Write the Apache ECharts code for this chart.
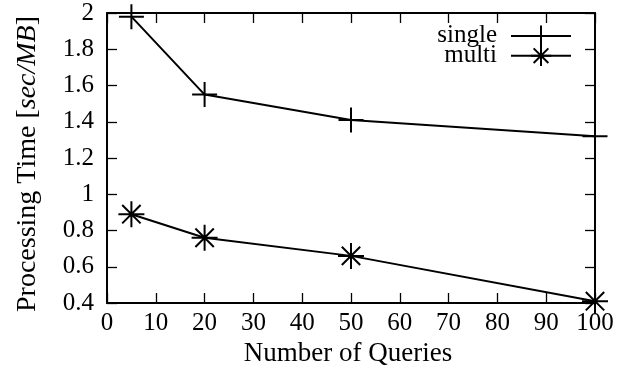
<!DOCTYPE html>
<html>
<head>
<meta charset="utf-8">
<script src="https://cdn.jsdelivr.net/npm/echarts@6/dist/echarts.min.js"></script>
<style>
html,body{margin:0;padding:0;background:#fff;}
#main{width:637px;height:369px;}
</style>
</head>
<body>
<div id="main"></div>
<script>
// 数据
let queries = [5, 20, 50, 100];
let singleTime = [1.98, 1.55, 1.41, 1.32];
let multiTime = [0.89, 0.76, 0.66, 0.41];
let xTicks = [0, 10, 20, 30, 40, 50, 60, 70, 80, 90, 100];
let yTicks = [0.4, 0.6, 0.8, 1, 1.2, 1.4, 1.6, 1.8, 2];

let fontName = 'Liberation Serif';
let fontSize = 25;
let plusPath = 'path://M0,-10L0,10M-10,0L10,0';
let starPath = 'path://M0,-10L0,10M-10,0L10,0M-7.07,-7.07L7.07,7.07M-7.07,7.07L7.07,-7.07';

function pairs(xs, ys){
	let result = [];
	for(let i = 0; i < xs.length; i++){
		result.push([xs[i], ys[i]]);
	}
	return result;
}

function makeSeries(name, ys, symbol, size){
	return {
		name: name,
		type: 'line',
		data: pairs(queries, ys),
		symbol: symbol,
		symbolSize: size,
		symbolKeepAspect: true,
		showAllSymbol: true,
		lineStyle: {color: '#000', width: 2},
		itemStyle: {color: 'none', borderColor: '#000', borderWidth: 2},
		emphasis: {disabled: true},
		z: 5
	};
}

let chart = echarts.init(document.getElementById('main'));
let axisLine = {show: true, onZero: false, lineStyle: {color: '#000', width: 2}};
let tick = {show: true, inside: true, length: 10, lineStyle: {color: '#000', width: 1.3}};

let option = {
	animation: false,
	backgroundColor: '#fff',
	grid: {left: 107, right: 42, top: 13, bottom: 66, containLabel: false, outerBoundsMode: 'none'},
	legend: {
		orient: 'vertical',
		align: 'right',
		right: 60,
		top: 18,
		itemGap: -6,
		itemWidth: 60,
		itemHeight: 26,
		textStyle: {fontFamily: fontName, fontSize: fontSize, color: '#000', padding: [0, 9, 0, 0]},
		data: ['single', 'multi']
	},
	xAxis: [{
		type: 'value', min: 0, max: 100, interval: 10,
		name: 'Number of Queries', nameLocation: 'middle', nameGap: 36,
		nameTextStyle: {fontFamily: fontName, fontSize: 27, color: '#000', padding: [0, 6, 0, 0]},
		axisLine: axisLine, axisTick: tick,
		axisLabel: {fontFamily: fontName, fontSize: fontSize, color: '#000', margin: 8},
		splitLine: {show: false}
	}, {
		type: 'value', position: 'top', min: 0, max: 100, interval: 10,
		axisLine: axisLine, axisTick: tick, axisLabel: {show: false}, splitLine: {show: false}
	}],
	yAxis: [{
		type: 'value', min: 0.4, max: 2, interval: 0.2,
		name: '{a|Processing Time [}{b|sec/MB}{a|]}', nameLocation: 'middle', nameGap: 65,
		nameTextStyle: {
			padding: [0, 12, 0, 0],
			rich: {
				a: {fontFamily: fontName, fontSize: 28, color: '#000'},
				b: {fontFamily: fontName, fontSize: 28, fontStyle: 'italic', color: '#000'}
			}
		},
		axisLine: axisLine, axisTick: tick,
		axisLabel: {fontFamily: fontName, fontSize: fontSize, color: '#000', margin: 13,
			formatter: function(v){ return String(Math.round(v * 10) / 10); }},
		splitLine: {show: false}
	}, {
		type: 'value', position: 'right', min: 0.4, max: 2, interval: 0.2,
		axisLine: axisLine, axisTick: tick, axisLabel: {show: false}, splitLine: {show: false}
	}],
	series: [
		makeSeries('single', singleTime, plusPath, 25),
		makeSeries('multi', multiTime, starPath, 26)
	]
};
chart.setOption(option);
</script>
</body>
</html>
